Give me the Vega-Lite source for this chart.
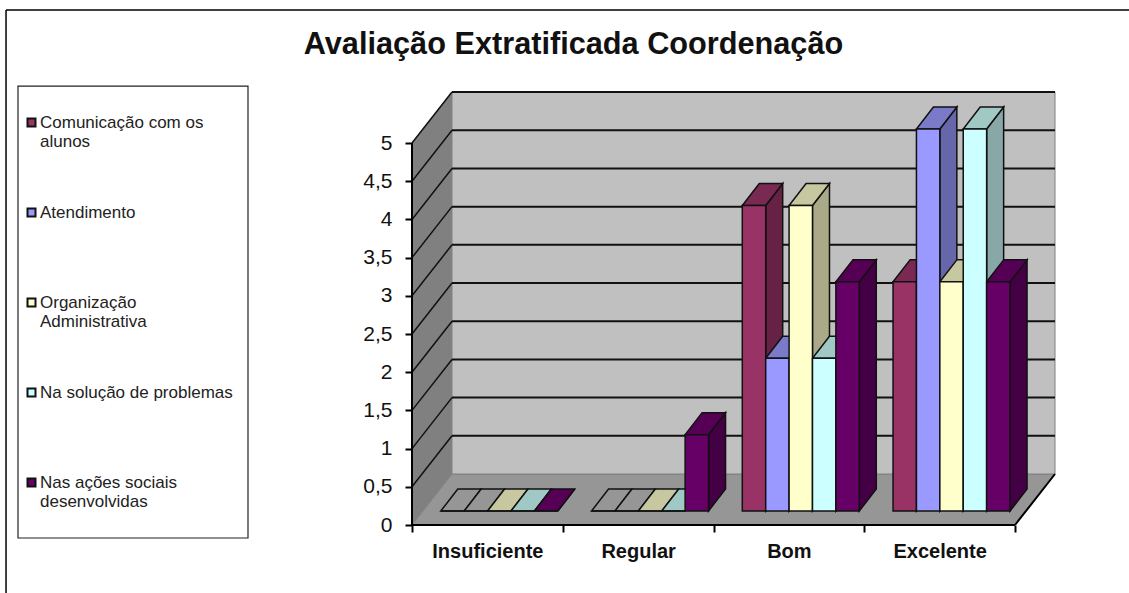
{"$schema":"https://vega.github.io/schema/vega-lite/v6.json","autosize":{"type":"none"},"padding":{"left":412,"top":92,"right":74,"bottom":68},"width":643,"height":433,"background":"white","title":{"text":"Avaliação Extratificada Coordenação","font":"Liberation Sans","fontSize":30.7,"fontWeight":"bold","color":"#111111","anchor":"middle","dx":-160,"offset":-51},"config":{"view":{"stroke":null},"font":"Liberation Sans"},"datasets":{"notas":[{"c":"Insuficiente","s":"Comunicação com os alunos","v":0},{"c":"Insuficiente","s":"Atendimento","v":0},{"c":"Insuficiente","s":"Organização Administrativa","v":0},{"c":"Insuficiente","s":"Na solução de problemas","v":0},{"c":"Insuficiente","s":"Nas ações sociais desenvolvidas","v":0},{"c":"Regular","s":"Comunicação com os alunos","v":0},{"c":"Regular","s":"Atendimento","v":0},{"c":"Regular","s":"Organização Administrativa","v":0},{"c":"Regular","s":"Na solução de problemas","v":0},{"c":"Regular","s":"Nas ações sociais desenvolvidas","v":1},{"c":"Bom","s":"Comunicação com os alunos","v":4},{"c":"Bom","s":"Atendimento","v":2},{"c":"Bom","s":"Organização Administrativa","v":4},{"c":"Bom","s":"Na solução de problemas","v":2},{"c":"Bom","s":"Nas ações sociais desenvolvidas","v":3},{"c":"Excelente","s":"Comunicação com os alunos","v":3},{"c":"Excelente","s":"Atendimento","v":5},{"c":"Excelente","s":"Organização Administrativa","v":3},{"c":"Excelente","s":"Na solução de problemas","v":5},{"c":"Excelente","s":"Nas ações sociais desenvolvidas","v":3}],"ticks":[{"t":0},{"t":0.5},{"t":1},{"t":1.5},{"t":2},{"t":2.5},{"t":3},{"t":3.5},{"t":4},{"t":4.5},{"t":5}],"um":[{"a":1}]},"resolve":{"scale":{"color":"independent"}},"layer":[
{"data":{"name":"um"},"mark":{"type":"rule","color":"black","strokeWidth":1.5},"encoding":{"x":{"datum":-2.693,"type":"quantitative","scale":{"domain":[0,4.2653],"nice":false,"zero":false}},"y":{"datum":6.741,"type":"quantitative","scale":{"domain":[0,5.668],"nice":false,"zero":false}},"y2":{"datum":-0.89}}},
{"data":{"name":"um"},"mark":{"type":"rule","color":"black","strokeWidth":1.5},"encoding":{"x":{"datum":-2.693,"type":"quantitative","scale":{"domain":[0,4.2653],"nice":false,"zero":false}},"x2":{"datum":4.76},"y":{"datum":6.741,"type":"quantitative","scale":{"domain":[0,5.668],"nice":false,"zero":false}}}},
{"data":{"name":"um"},"mark":{"type":"rect","fill":"white","stroke":"#222222","strokeWidth":1.2},"encoding":{"x":{"datum":-2.6136,"type":"quantitative","scale":{"domain":[0,4.2653],"nice":false,"zero":false}},"x2":{"datum":-1.0879},"y":{"datum":5.746,"type":"quantitative","scale":{"domain":[0,5.668],"nice":false,"zero":false}},"y2":{"datum":-0.17}}},
{"data":{"name":"um"},"transform":[{"calculate":"[0,1]","as":"k"},{"flatten":["k"]},{"calculate":"datum.k*0.2653","as":"px"},{"calculate":"datum.k*0.6675","as":"py"},{"calculate":"5+datum.k*0.6675","as":"py2"}],"mark":{"type":"area","orient":"vertical","fill":"#808080","stroke":"#808080","strokeWidth":1},"encoding":{"x":{"field":"px","type":"quantitative","scale":{"domain":[0,4.2653],"nice":false,"zero":false}},"y":{"field":"py","type":"quantitative","scale":{"domain":[0,5.668],"nice":false,"zero":false}},"y2":{"field":"py2"}}},
{"data":{"name":"um"},"transform":[{"calculate":"[0,1]","as":"k"},{"flatten":["k"]},{"calculate":"datum.k*0.2653","as":"px"},{"calculate":"4+datum.k*0.2653","as":"px2"},{"calculate":"datum.k*0.6675","as":"py"}],"mark":{"type":"area","orient":"horizontal","fill":"#969696","stroke":"#808080","strokeWidth":1},"encoding":{"x":{"field":"px","type":"quantitative","scale":{"domain":[0,4.2653],"nice":false,"zero":false}},"x2":{"field":"px2"},"y":{"field":"py","type":"quantitative","scale":{"domain":[0,5.668],"nice":false,"zero":false}}}},
{"data":{"name":"um"},"mark":{"type":"rect","fill":"#C0C0C0","stroke":"#808080","strokeWidth":1},"encoding":{"x":{"datum":0.2653,"type":"quantitative","scale":{"domain":[0,4.2653],"nice":false,"zero":false}},"x2":{"datum":4.2653},"y":{"datum":0.6675,"type":"quantitative","scale":{"domain":[0,5.668],"nice":false,"zero":false}},"y2":{"datum":5.6675}}},
{"data":{"name":"ticks"},"transform":[{"filter":"datum.t>0"},{"calculate":"datum.t+0.6675","as":"py"}],"mark":{"type":"rule","color":"#111111","strokeWidth":2},"encoding":{"x":{"datum":0.2653,"type":"quantitative","scale":{"domain":[0,4.2653],"nice":false,"zero":false}},"x2":{"datum":4.2653},"y":{"field":"py","type":"quantitative","scale":{"domain":[0,5.668],"nice":false,"zero":false}}}},
{"data":{"name":"ticks"},"transform":[{"filter":"datum.t>0"},{"calculate":"[0,1]","as":"k"},{"flatten":["k"]},{"calculate":"datum.k*0.2653","as":"px"},{"calculate":"datum.t+datum.k*0.6675","as":"py"}],"mark":{"type":"line","color":"#111111","strokeWidth":1.5},"encoding":{"detail":{"field":"t"},"x":{"field":"px","type":"quantitative","scale":{"domain":[0,4.2653],"nice":false,"zero":false}},"y":{"field":"py","type":"quantitative","scale":{"domain":[0,5.668],"nice":false,"zero":false}}}},
{"data":{"name":"um"},"transform":[{"calculate":"[0,1]","as":"k"},{"flatten":["k"]},{"calculate":"4+datum.k*0.2653","as":"px"},{"calculate":"datum.k*0.6675","as":"py"}],"mark":{"type":"line","color":"black","strokeWidth":2},"encoding":{"x":{"field":"px","type":"quantitative","scale":{"domain":[0,4.2653],"nice":false,"zero":false}},"y":{"field":"py","type":"quantitative","scale":{"domain":[0,5.668],"nice":false,"zero":false}}}},
{"data":{"name":"um"},"mark":{"type":"rule","color":"black","strokeWidth":2},"encoding":{"x":{"datum":0,"type":"quantitative","scale":{"domain":[0,4.2653],"nice":false,"zero":false}},"x2":{"datum":4},"y":{"datum":0,"type":"quantitative","scale":{"domain":[0,5.668],"nice":false,"zero":false}}}},
{"data":{"name":"um"},"mark":{"type":"rule","color":"black","strokeWidth":2},"encoding":{"x":{"datum":0,"type":"quantitative","scale":{"domain":[0,4.2653],"nice":false,"zero":false}},"y":{"datum":0,"type":"quantitative","scale":{"domain":[0,5.668],"nice":false,"zero":false}},"y2":{"datum":5}}},
{"data":{"name":"notas"},"transform":[{"calculate":"indexof(['Insuficiente','Regular','Bom','Excelente'],datum.c)","as":"ci"},{"calculate":"indexof(['Comunicação com os alunos','Atendimento','Organização Administrativa','Na solução de problemas','Nas ações sociais desenvolvidas'],datum.s)","as":"si"},{"calculate":"datum.ci+0.191+datum.si*0.1552","as":"x0"},{"calculate":"[0,1]","as":"k"},{"flatten":["k"]},{"calculate":"datum.x0+0.1552+datum.k*0.1128","as":"px"},{"calculate":"0.183+datum.k*0.288","as":"py"},{"calculate":"0.183+datum.v+datum.k*0.288","as":"py2"}],"mark":{"type":"area","orient":"vertical","stroke":"#111111","strokeWidth":1.5},"encoding":{"detail":{"field":"c"},"color":{"field":"s","type":"nominal","legend":null,"scale":{"domain":["Comunicação com os alunos","Atendimento","Organização Administrativa","Na solução de problemas","Nas ações sociais desenvolvidas"],"range":["#662244","#6666AA","#AAAA88","#88A8A8","#440044"]}},"x":{"field":"px","type":"quantitative","scale":{"domain":[0,4.2653],"nice":false,"zero":false}},"y":{"field":"py","type":"quantitative","scale":{"domain":[0,5.668],"nice":false,"zero":false}},"y2":{"field":"py2"}}},
{"data":{"name":"notas"},"transform":[{"calculate":"indexof(['Insuficiente','Regular','Bom','Excelente'],datum.c)","as":"ci"},{"calculate":"indexof(['Comunicação com os alunos','Atendimento','Organização Administrativa','Na solução de problemas','Nas ações sociais desenvolvidas'],datum.s)","as":"si"},{"calculate":"datum.ci+0.191+datum.si*0.1552","as":"x0"},{"calculate":"[0,1]","as":"k"},{"flatten":["k"]},{"calculate":"datum.x0+datum.k*0.1128","as":"px"},{"calculate":"datum.x0+0.1552+datum.k*0.1128","as":"px2"},{"calculate":"0.183+datum.v+datum.k*0.288","as":"py"}],"mark":{"type":"area","orient":"horizontal","stroke":"#111111","strokeWidth":1.5},"encoding":{"detail":{"field":"c"},"color":{"condition":{"test":"datum.v==0&&datum.si<2","value":"#969696"},"field":"s","type":"nominal","legend":null,"scale":{"domain":["Comunicação com os alunos","Atendimento","Organização Administrativa","Na solução de problemas","Nas ações sociais desenvolvidas"],"range":["#7A2952","#7A7AC9","#C8C8A0","#A0C8C4","#550055"]}},"x":{"field":"px","type":"quantitative","scale":{"domain":[0,4.2653],"nice":false,"zero":false}},"x2":{"field":"px2"},"y":{"field":"py","type":"quantitative","scale":{"domain":[0,5.668],"nice":false,"zero":false}}}},
{"data":{"name":"notas"},"transform":[{"calculate":"indexof(['Insuficiente','Regular','Bom','Excelente'],datum.c)","as":"ci"},{"calculate":"indexof(['Comunicação com os alunos','Atendimento','Organização Administrativa','Na solução de problemas','Nas ações sociais desenvolvidas'],datum.s)","as":"si"},{"calculate":"datum.ci+0.191+datum.si*0.1552","as":"x0"},{"calculate":"datum.x0+0.1552","as":"x1"},{"calculate":"0.183","as":"y0"},{"calculate":"0.183+datum.v","as":"y1"}],"mark":{"type":"rect","stroke":"#111111","strokeWidth":1.5},"encoding":{"color":{"field":"s","type":"nominal","scale":{"domain":["Comunicação com os alunos","Atendimento","Organização Administrativa","Na solução de problemas","Nas ações sociais desenvolvidas"],"range":["#993366","#9999FF","#FFFFCC","#CCFFFF","#660066"]},"legend":{"orient":"none","legendX":-389,"legendY":22,"title":null,"symbolType":"square","symbolSize":64,"symbolStrokeColor":"#111111","symbolStrokeWidth":2,"symbolOpacity":1,"labelFont":"Liberation Sans","labelFontSize":17,"labelColor":"#222222","labelOffset":0,"labelLimit":220,"rowPadding":53,"padding":0,"labelExpr":"datum.label=='Comunicação com os alunos'?['Comunicação com os','alunos']:datum.label=='Organização Administrativa'?['Organização','Administrativa']:datum.label=='Nas ações sociais desenvolvidas'?['Nas ações sociais','desenvolvidas']:[datum.label,' ']"}},"x":{"field":"x0","type":"quantitative","scale":{"domain":[0,4.2653],"nice":false,"zero":false},"axis":{"values":[0,0.5,1,1.5,2,2.5,3,3.5,4],"title":null,"domain":false,"grid":false,"tickSize":7,"tickWidth":2,"tickColor":"black","tickOpacity":{"condition":{"test":"datum.value%1==0","value":1},"value":0},"labelFont":"Liberation Sans","labelFontSize":20,"labelFontWeight":"bold","labelColor":"#111111","labelPadding":9,"labelFlush":false,"labelOverlap":false,"labelExpr":"datum.value==0.5?'Insuficiente':datum.value==1.5?'Regular':datum.value==2.5?'Bom':datum.value==3.5?'Excelente':''"}},"x2":{"field":"x1"},"y":{"field":"y0","type":"quantitative","scale":{"domain":[0,5.668],"nice":false,"zero":false},"axis":{"values":[0,0.5,1,1.5,2,2.5,3,3.5,4,4.5,5],"title":null,"domain":false,"grid":false,"tickSize":7,"tickWidth":2,"tickColor":"black","labelFont":"Liberation Sans","labelFontSize":21,"labelColor":"#111111","labelPadding":13,"labelFlush":false,"labelOverlap":false,"labelExpr":"replace(toString(datum.value),'.',',')"}},"y2":{"field":"y1"}}}
]}
